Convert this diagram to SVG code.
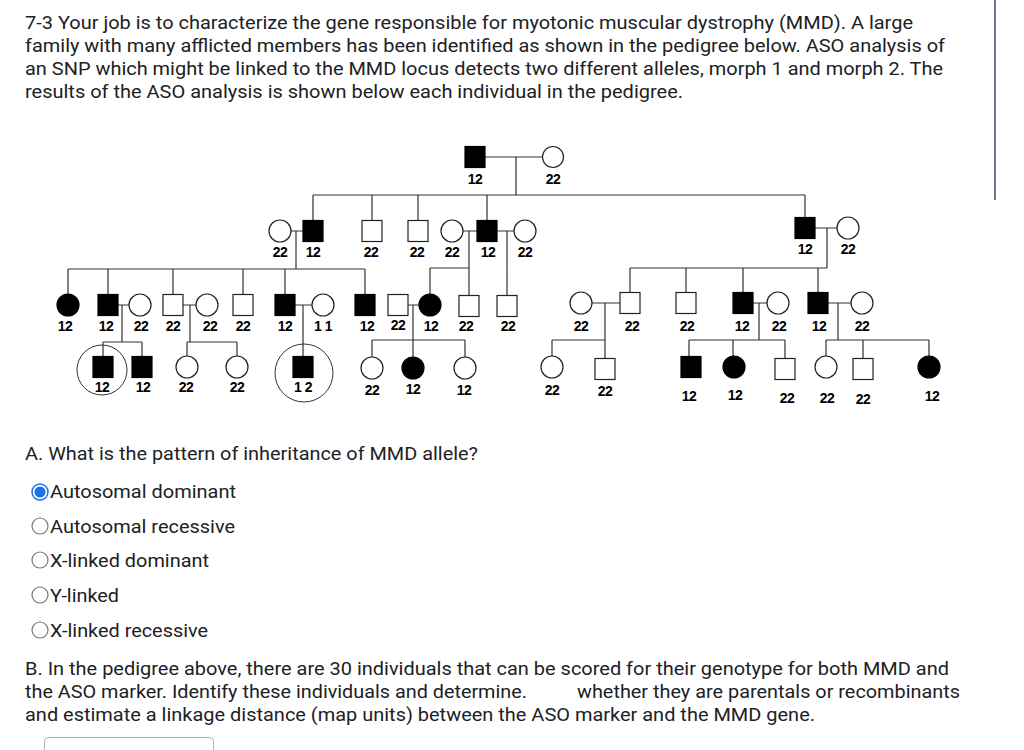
<svg xmlns="http://www.w3.org/2000/svg" width="1024" height="750" viewBox="0 0 1024 750">
<style>
.q{font-family:Roboto,"Liberation Sans",Arial,sans-serif;font-size:18.5px;fill:#202124}
.sq{fill:#fff;stroke:#222;stroke-width:1.2}
.sqf{fill:#000;stroke:#000;stroke-width:1.2}
.ci{fill:#fff;stroke:#222;stroke-width:1.2}
.cif{fill:#000;stroke:#000;stroke-width:1.2}
.big{fill:none;stroke:#333;stroke-width:1}
.lbl{font-family:"Liberation Sans",Arial,sans-serif;font-weight:bold;font-size:14px;text-anchor:middle;fill:#000;letter-spacing:-0.5px}
.ln{fill:none;stroke:#333;stroke-width:1.2}
.rad{fill:#fff;stroke:#767676;stroke-width:1.2}
</style>
<rect width="1024" height="750" fill="#fff"/>
<line x1="995" y1="0" x2="995" y2="200" stroke="#3c4a66" stroke-width="1.5"/>

<g id="question">
<text class="q" x="25" y="29" textLength="888" lengthAdjust="spacingAndGlyphs">7-3 Your job is to characterize the gene responsible for myotonic muscular dystrophy (MMD). A large</text>
<text class="q" x="25" y="52" textLength="920" lengthAdjust="spacingAndGlyphs">family with many afflicted members has been identified as shown in the pedigree below. ASO analysis of</text>
<text class="q" x="25" y="75" textLength="918" lengthAdjust="spacingAndGlyphs">an SNP which might be linked to the MMD locus detects two different alleles, morph 1 and morph 2. The</text>
<text class="q" x="25" y="98" textLength="658" lengthAdjust="spacingAndGlyphs">results of the ASO analysis is shown below each individual in the pedigree.</text>
</g>

<g id="connectors" class="ln">
<path d="M485 157H543 M516 157V195 M313 195H805 M313 195V220.5 M372 195V220.5 M418 195V220.5 M487 195V220.5 M805 195V217.5"/>
<path d="M291 231H303 M296 231V269 M68 269H365 M68 269V294 M108 269V294.5 M173 269V294.5 M243 269V294.5 M285 269V294.5 M365 269V294.5"/>
<path d="M463 231H477 M469 231V295.5 M430 268H469 M430 268V294 M497 231H514 M507 231V295.5"/>
<path d="M815 228H837 M827 228V268 M630 268H827 M630 268V292.5 M686 268V292.5 M743 268V292.5 M818 268V292.5"/>
<path d="M118 305H129 M122 305V342 M103 342H142 M103 342V356.5 M142 342V356.5"/>
<path d="M183 305H196 M190 305V342 M187 342H237 M187 342V356 M237 342V356"/>
<path d="M295 305H312 M303 305V356.5"/>
<path d="M408 305H419 M413 305V340 M372 340H465 M372 340V357 M413 340V357 M465 340V357"/>
<path d="M592 303H620 M605 303V340 M552 340H605 M552 340V356 M605 340V358.5"/>
<path d="M753 303H767 M759 303V340 M689 340H785 M689 340V356.5 M733 340V356 M785 340V358.5"/>
<path d="M828 303H851 M838 303V340 M826 340H929 M826 340V356 M863 340V358.5 M929 340V356"/>
</g>

<!-- Generation I -->
<g id="n1"><rect class="sqf" x="465" y="146.5" width="20" height="21"/><text class="lbl" x="475" y="184">12</text></g>
<g id="n2"><circle class="ci" cx="553" cy="157" r="10.5"/><text class="lbl" x="553" y="184">22</text></g>

<!-- Generation II -->
<g id="n3"><circle class="ci" cx="280" cy="231" r="11"/><text class="lbl" x="280" y="257">22</text></g>
<g id="n4"><rect class="sqf" x="303" y="220.5" width="20" height="21"/><text class="lbl" x="313" y="257">12</text></g>
<g id="n5"><rect class="sq" x="362" y="220.5" width="20" height="21"/><text class="lbl" x="371" y="257">22</text></g>
<g id="n6"><rect class="sq" x="408" y="220.5" width="20" height="21"/><text class="lbl" x="417" y="257">22</text></g>
<g id="n7"><circle class="ci" cx="452" cy="231" r="11"/><text class="lbl" x="452" y="257">22</text></g>
<g id="n8"><rect class="sqf" x="477" y="220.5" width="20" height="21"/><text class="lbl" x="488" y="257">12</text></g>
<g id="n9"><circle class="ci" cx="525" cy="231" r="11"/><text class="lbl" x="525" y="257">22</text></g>
<g id="n10"><rect class="sqf" x="795" y="217.5" width="20" height="21"/><text class="lbl" x="805" y="254">12</text></g>
<g id="n11"><circle class="ci" cx="848" cy="228" r="11"/><text class="lbl" x="848" y="254">22</text></g>

<!-- Generation III -->
<g id="n12"><circle class="cif" cx="68" cy="305" r="11"/><text class="lbl" x="65" y="331">12</text></g>
<g id="n13"><rect class="sqf" x="98" y="294.5" width="20" height="21"/><text class="lbl" x="106" y="331">12</text></g>
<g id="n14"><circle class="ci" cx="140" cy="305" r="11"/><text class="lbl" x="141" y="331">22</text></g>
<g id="n15"><rect class="sq" x="163" y="294.5" width="20" height="21"/><text class="lbl" x="173" y="331">22</text></g>
<g id="n16"><circle class="ci" cx="207" cy="305" r="11"/><text class="lbl" x="210" y="331">22</text></g>
<g id="n17"><rect class="sq" x="233" y="294.5" width="20" height="21"/><text class="lbl" x="243" y="331">22</text></g>
<g id="n18"><rect class="sqf" x="275" y="294.5" width="20" height="21"/><text class="lbl" x="285" y="331">12</text></g>
<g id="n19"><circle class="ci" cx="323" cy="305" r="11"/><text class="lbl" x="323" y="331">1 1</text></g>
<g id="n20"><rect class="sqf" x="355" y="294.5" width="20" height="21"/><text class="lbl" x="367" y="331">12</text></g>
<g id="n21"><rect class="sq" x="388" y="294.5" width="20" height="21"/><text class="lbl" x="398" y="330">22</text></g>
<g id="n22"><circle class="cif" cx="430" cy="305" r="11"/><text class="lbl" x="431" y="331">12</text></g>
<g id="n23"><rect class="sq" x="459" y="295.5" width="20" height="21"/><text class="lbl" x="466" y="331">22</text></g>
<g id="n24"><rect class="sq" x="497" y="295.5" width="20" height="21"/><text class="lbl" x="508" y="331">22</text></g>
<g id="n25"><circle class="ci" cx="581" cy="303" r="11"/><text class="lbl" x="581" y="331">22</text></g>
<g id="n26"><rect class="sq" x="620" y="292.5" width="20" height="21"/><text class="lbl" x="632" y="331">22</text></g>
<g id="n27"><rect class="sq" x="676" y="292.5" width="20" height="21"/><text class="lbl" x="687" y="331">22</text></g>
<g id="n28"><rect class="sqf" x="733" y="292.5" width="20" height="21"/><text class="lbl" x="742" y="331">12</text></g>
<g id="n29"><circle class="ci" cx="778" cy="303" r="11"/><text class="lbl" x="779" y="331">22</text></g>
<g id="n30"><rect class="sqf" x="808" y="292.5" width="20" height="21"/><text class="lbl" x="819" y="331">12</text></g>
<g id="n31"><circle class="ci" cx="862" cy="303" r="11"/><text class="lbl" x="862" y="331">22</text></g>

<!-- Generation IV -->
<g id="n32"><circle class="big" cx="102" cy="370" r="25"/><rect class="sqf" x="93" y="356.5" width="20" height="21"/><text class="lbl" x="102" y="392">12</text></g>
<g id="n33"><rect class="sqf" x="132" y="356.5" width="20" height="21"/><text class="lbl" x="143" y="392">12</text></g>
<g id="n34"><circle class="ci" cx="187" cy="367" r="11"/><text class="lbl" x="186" y="392">22</text></g>
<g id="n35"><circle class="ci" cx="237" cy="367" r="11"/><text class="lbl" x="237" y="392">22</text></g>
<g id="n36"><circle class="big" cx="304" cy="373" r="29"/><rect class="sqf" x="293" y="356.5" width="20" height="21"/><text class="lbl" x="303" y="392">1 2</text></g>
<g id="n37"><circle class="ci" cx="372" cy="368" r="11"/><text class="lbl" x="372" y="395">22</text></g>
<g id="n38"><circle class="cif" cx="413" cy="368" r="11"/><text class="lbl" x="413" y="394">12</text></g>
<g id="n39"><circle class="ci" cx="465" cy="368" r="11"/><text class="lbl" x="464" y="395">12</text></g>
<g id="n40"><circle class="ci" cx="552" cy="367" r="11"/><text class="lbl" x="552" y="395">22</text></g>
<g id="n41"><rect class="sq" x="595" y="358.5" width="20" height="21"/><text class="lbl" x="605" y="396">22</text></g>
<g id="n42"><rect class="sqf" x="681" y="356.5" width="20" height="21"/><text class="lbl" x="689" y="401">12</text></g>
<g id="n43"><circle class="cif" cx="734" cy="367" r="11"/><text class="lbl" x="735" y="400">12</text></g>
<g id="n44"><rect class="sq" x="775" y="358.5" width="20" height="21"/><text class="lbl" x="787" y="403">22</text></g>
<g id="n45"><circle class="ci" cx="826" cy="367" r="11"/><text class="lbl" x="827" y="403">22</text></g>
<g id="n46"><rect class="sq" x="853" y="358.5" width="20" height="21"/><text class="lbl" x="863" y="404">22</text></g>
<g id="n47"><circle class="cif" cx="929" cy="367" r="11"/><text class="lbl" x="932" y="401">12</text></g>

<g id="partA">
<text class="q" x="25" y="460" textLength="453" lengthAdjust="spacingAndGlyphs">A. What is the pattern of inheritance of MMD allele?</text>
<circle cx="40" cy="492" r="8" fill="#fff" stroke="#1a73e8" stroke-width="1.5"/>
<circle cx="40" cy="492" r="5.5" fill="#1a73e8"/>
<text class="q" x="50" y="498" textLength="186" lengthAdjust="spacingAndGlyphs">Autosomal dominant</text>
<circle class="rad" cx="40" cy="526" r="8"/>
<text class="q" x="50" y="533" textLength="185" lengthAdjust="spacingAndGlyphs">Autosomal recessive</text>
<circle class="rad" cx="40" cy="560" r="8"/>
<text class="q" x="50" y="567" textLength="159" lengthAdjust="spacingAndGlyphs">X-linked dominant</text>
<circle class="rad" cx="40" cy="595" r="8"/>
<text class="q" x="50" y="602" textLength="69" lengthAdjust="spacingAndGlyphs">Y-linked</text>
<circle class="rad" cx="40" cy="630" r="8"/>
<text class="q" x="50" y="637" textLength="158" lengthAdjust="spacingAndGlyphs">X-linked recessive</text>
</g>

<g id="partB">
<text class="q" x="25" y="675" textLength="924" lengthAdjust="spacingAndGlyphs">B. In the pedigree above, there are 30 individuals that can be scored for their genotype for both MMD and</text>
<text class="q" x="25" y="698" textLength="502" lengthAdjust="spacingAndGlyphs">the ASO marker. Identify these individuals and determine.</text>
<text class="q" x="577" y="698" textLength="383" lengthAdjust="spacingAndGlyphs">whether they are parentals or recombinants</text>
<text class="q" x="25" y="721" textLength="790" lengthAdjust="spacingAndGlyphs">and estimate a linkage distance (map units) between the ASO marker and the MMD gene.</text>
<rect x="44.5" y="737.5" width="169" height="30" rx="4" fill="#fff" stroke="#b0b0b0" stroke-width="1"/>
</g>
</svg>
